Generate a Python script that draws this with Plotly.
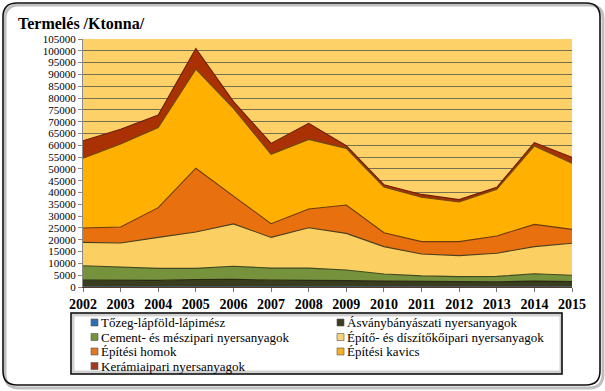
import plotly.graph_objects as go

years = list(range(2002, 2016))
tozeg = [250, 230, 220, 240, 260, 230, 220, 200, 180, 170, 160, 160, 170, 160]
asvany = [2650, 2570, 2580, 2960, 3040, 2670, 2680, 2500, 2320, 2130, 2040, 2040, 2330, 2140]
cement = [6100, 5500, 5100, 4700, 5500, 5100, 5100, 4500, 3000, 2400, 2200, 2300, 3100, 2700]
epitoko = [9900, 10300, 13100, 15400, 17900, 13000, 17100, 15500, 11600, 9300, 8900, 9800, 11500, 13500]
homok = [6100, 6800, 12600, 27000, 11800, 5800, 7900, 12000, 5900, 5200, 5900, 7300, 9400, 5900]
kavics = [29500, 35100, 33900, 41900, 37100, 29400, 29500, 24000, 19300, 18800, 16800, 19800, 33200, 28000]
keramia = [7400, 6300, 5300, 8800, 2900, 4600, 6800, 1100, 1000, 1200, 1000, 800, 1400, 2500]

names = ["Tőzeg-lápföld-lápimész", "Ásványbányászati nyersanyagok",
         "Cement- és mészipari nyersanyagok", "Építő- és díszítőkőipari nyersanyagok",
         "Építési homok", "Építési kavics", "Kerámiaipari nyersanyagok"]
series = [tozeg, asvany, cement, epitoko, homok, kavics, keramia]
colors = ["#2E6DB4", "#3A3D1E", "#76923C", "#FBCF62", "#E9700F", "#FFB000", "#A93104"]
legend_colors = ["#2E6DB4", "#3A3D1E", "#76923C", "#F7D27A", "#E07A20", "#F8B020", "#A33A20"]
line_colors = ["#23476e", "#2a2a14", "#3f4a20", "#4c4020", "#6b3a10", "#6b4a10", "#6e2000"]
yticks = list(range(0, 105001, 5000))

W, H = 605, 391
L, R, T, B = 83, 33, 39, 104
PW, PH = W - L - R, H - T - B


def px(x):
    return (x - L) / PW


def py(y):
    return (H - B - y) / PH


def rrect(x0, y0, x1, y1, r):
    k = [
        f"M{px(x0 + r)},{py(y0)}", f"L{px(x1 - r)},{py(y0)}",
        f"Q{px(x1)},{py(y0)} {px(x1)},{py(y0 + r)}", f"L{px(x1)},{py(y1 - r)}",
        f"Q{px(x1)},{py(y1)} {px(x1 - r)},{py(y1)}", f"L{px(x0 + r)},{py(y1)}",
        f"Q{px(x0)},{py(y1)} {px(x0)},{py(y1 - r)}", f"L{px(x0)},{py(y0 + r)}",
        f"Q{px(x0)},{py(y0)} {px(x0 + r)},{py(y0)}", "Z"]
    return " ".join(k)


fig = go.Figure()
for i, (n, s) in enumerate(zip(names, series)):
    fig.add_trace(go.Scatter(
        x=years, y=s, name=n, mode="lines", stackgroup="one",
        line=dict(color=line_colors[i], width=0.6 if i == 0 else 1.1),
        fillcolor=colors[i], showlegend=False))

serif = "Liberation Serif"
shapes = []
annotations = []
# outer frame with shadow
shapes.append(dict(type="path", xref="paper", yref="paper", path=rrect(5, 5, 603, 388, 14),
                   line=dict(color="rgba(0,0,0,0.25)", width=3), layer="above"))
shapes.append(dict(type="path", xref="paper", yref="paper", path=rrect(3, 3, 600, 385, 14),
                   line=dict(color="#111111", width=1.6), layer="above"))
# legend box
shapes.append(dict(type="rect", xref="paper", yref="paper", x0=px(73), x1=px(561), y0=py(315), y1=py(372),
                   line=dict(color="rgba(0,0,0,0.18)", width=3), layer="above"))
shapes.append(dict(type="rect", xref="paper", yref="paper", x0=px(71), x1=px(562), y0=py(313), y1=py(374),
                   line=dict(color="#000000", width=1.5), layer="above"))
row_y = [322.5, 337, 351.5, 366]
col_x = [91, 337]
for i, n in enumerate(names):
    r, c = divmod(i, 2)
    x0 = col_x[c]
    yc = row_y[r]
    shapes.append(dict(type="rect", xref="paper", yref="paper", x0=px(x0), x1=px(x0 + 7),
                       y0=py(yc - 3.5), y1=py(yc + 3.5), fillcolor=legend_colors[i],
                       line=dict(color="#555555", width=0.6), layer="above"))
    annotations.append(dict(text=n, xref="paper", yref="paper", x=px(x0 + 8), y=py(yc),
                            xanchor="left", yanchor="middle", showarrow=False,
                            font=dict(family=serif, size=13, color="#000000")))

fig.update_layout(
    width=W, height=H,
    margin=dict(l=L, r=R, t=T, b=B, pad=0),
    paper_bgcolor="#FFFFFF",
    plot_bgcolor="#FDD068",
    showlegend=False,
    title=dict(text="<b>Termelés /Ktonna/</b>", x=18 / W, xanchor="left", xref="container",
               y=1 - 23 / H, yanchor="middle", yref="container",
               font=dict(family=serif, size=16, color="#000000")),
    xaxis=dict(range=[2002, 2015], tickmode="array", tickvals=years, ticktext=[f"<b>{y}</b>" for y in years],
               showgrid=False, zeroline=False, showline=True, linecolor="#5a3a28", linewidth=1.2,
               ticks="outside", ticklen=4, tickcolor="#777777",
               tickfont=dict(family=serif, size=14, color="#000000")),
    yaxis=dict(range=[0, 105000], tickvals=yticks, ticktext=[str(v) for v in yticks],
               showgrid=True, gridcolor="#76704f", gridwidth=1, zeroline=False,
               showline=True, linecolor="#8a8a8a", linewidth=1,
               ticks="outside", ticklen=4, tickcolor="#8a8a8a",
               tickfont=dict(family=serif, size=11, color="#000000")),
    shapes=shapes,
    annotations=annotations,
)

fig.write_html("out.html", config={"displayModeBar": False},
               post_script="document.body.style.margin='0';")
